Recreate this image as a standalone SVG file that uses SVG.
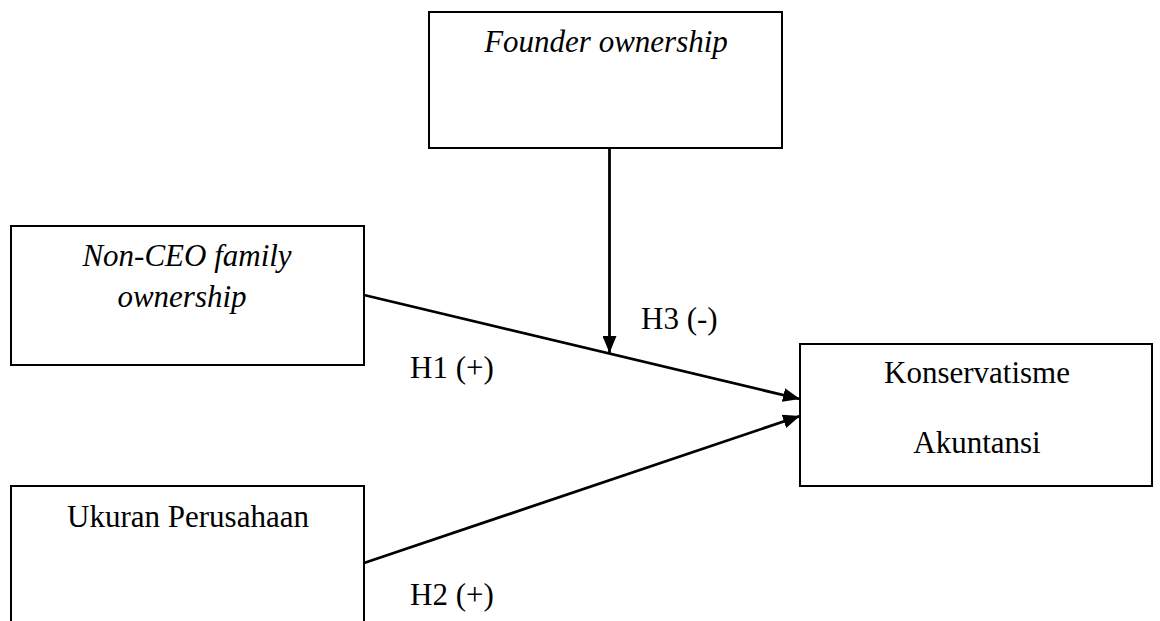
<svg xmlns="http://www.w3.org/2000/svg" width="1160" height="621" viewBox="0 0 1160 621">
<style>
.box{fill:#fff;stroke:#000;stroke-width:2}
.t{font-family:"Liberation Serif","Times New Roman",serif;font-size:31px;fill:#000}
.i{font-style:italic}
.c{stroke:#000;stroke-width:2.8;fill:none}
</style>
<defs>
<marker id="ah" viewBox="0 0 17 14" refX="17" refY="7" markerWidth="17" markerHeight="14" markerUnits="userSpaceOnUse" orient="auto">
<path d="M0,0 L17,7 L0,14 Z" fill="#000"/>
</marker>
</defs>
<rect width="1160" height="621" fill="#fff"/>
<g id="founder">
<rect class="box" x="429" y="12" width="353" height="136"/>
<text class="t i" x="606" y="52" text-anchor="middle">Founder ownership</text>
</g>
<g id="nonceo">
<rect class="box" x="11" y="226" width="353" height="139"/>
<text class="t i" x="187" y="266" text-anchor="middle">Non-CEO family</text>
<text class="t i" x="182" y="307" text-anchor="middle">ownership</text>
</g>
<g id="ukuran">
<rect class="box" x="11" y="486" width="353" height="150"/>
<text class="t" x="188" y="527" text-anchor="middle">Ukuran Perusahaan</text>
</g>
<g id="konservatisme">
<rect class="box" x="800" y="344" width="352" height="142"/>
<text class="t" x="977" y="383" text-anchor="middle">Konservatisme</text>
<text class="t" x="977" y="453" text-anchor="middle">Akuntansi</text>
</g>
<g id="connectors">
<line class="c" x1="364" y1="295" x2="800" y2="399" marker-end="url(#ah)"/>
<line class="c" x1="364" y1="563" x2="800" y2="416" marker-end="url(#ah)"/>
<line class="c" x1="609.5" y1="148" x2="609.5" y2="353" marker-end="url(#ah)"/>
</g>
<g id="labels">
<text class="t" x="641" y="329">H3 (-)</text>
<text class="t" x="410" y="378">H1 (+)</text>
<text class="t" x="410" y="605">H2 (+)</text>
</g>
</svg>
